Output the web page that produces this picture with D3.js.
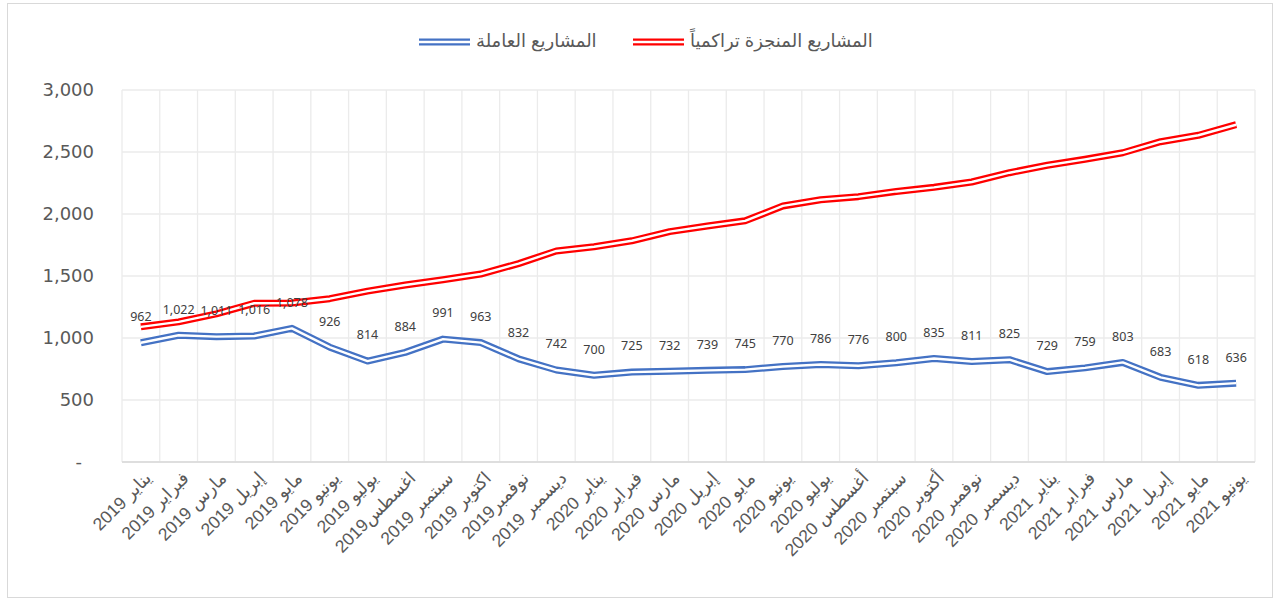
<!DOCTYPE html>
<html>
<head>
  <meta charset="UTF-8">
  <script src="https://d3js.org/d3.v7.min.js"></script>
  <style>
    body { margin: 0; background: #fff; }
  </style>
</head>
<body>
  <script>
    // chart data
    var months = [
      "يناير 2019", "فبراير 2019", "مارس 2019", "إبريل 2019", "مايو 2019", "يونيو 2019",
      "يوليو 2019", "اغسطس2019", "سبتمبر 2019", "اكتوبر 2019", "نوفمبر2019", "ديسمبر 2019",
      "يناير 2020", "فبراير 2020", "مارس 2020", "إبريل 2020", "مايو 2020", "يونيو 2020",
      "يوليو 2020", "أغسطس 2020", "سبتمبر 2020", "أكتوبر 2020", "نوفمبر 2020", "ديسمبر 2020",
      "يناير 2021", "فبراير 2021", "مارس 2021", "إبريل 2021", "مايو 2021", "يونيو 2021"
    ];
    // cumulative completed projects (no labels)
    var completed = [1090, 1130, 1195, 1280, 1282, 1317, 1378, 1427, 1470, 1516, 1600, 1702,
      1736, 1784, 1858, 1903, 1945, 2065, 2115, 2140, 2182, 2215, 2258, 2333,
      2393, 2441, 2494, 2583, 2635, 2720];
    // active projects
    var active = [962, 1022, 1011, 1016, 1078, 926, 814, 884, 991, 963, 832, 742,
      700, 725, 732, 739, 745, 770, 786, 776, 800, 835, 811, 825,
      729, 759, 803, 683, 618, 636];
    var yTicks = [0, 500, 1000, 1500, 2000, 2500, 3000];
    var seriesNames = ["المشاريع المنجزة تراكمياً", "المشاريع العاملة"];
    var seriesColors = ["#ff0000", "#4472c4"];

    var width = 1280;
    var height = 605;
    var svg = d3.select("body")
      .append("svg")
      .attr("width", width)
      .attr("height", height);

    // outer chart border
    svg.append("rect")
      .attr("x", 7.5).attr("y", 3.5)
      .attr("width", 1265).attr("height", 594)
      .attr("fill", "#fff")
      .attr("stroke", "#d9d9d9");

    var x = d3.scaleBand().domain(months).range([122, 1255]);
    var y = d3.scaleLinear().domain([0, 3000]).range([462, 90]);
    var cx = function(d) { return x(d) + x.bandwidth() / 2; };

    // gridlines
    var grid = svg.append("g").attr("stroke", "#ebebeb").attr("stroke-width", 1.3);
    grid.selectAll("line.h").data(yTicks).enter().append("line")
      .attr("x1", 122).attr("x2", 1255)
      .attr("y1", function(d) { return y(d); })
      .attr("y2", function(d) { return y(d); });
    grid.selectAll("line.v").data(months.concat([null])).enter().append("line")
      .attr("x1", function(d) { return d === null ? 1255 : x(d); })
      .attr("x2", function(d) { return d === null ? 1255 : x(d); })
      .attr("y1", 90).attr("y2", 462);
    svg.append("line")
      .attr("x1", 122).attr("x2", 1255).attr("y1", y(0)).attr("y2", y(0))
      .attr("stroke", "#d9d9d9").attr("stroke-width", 1.3);

    // y axis labels
    var fmt = d3.format(",");
    svg.append("g").selectAll("text").data(yTicks).enter().append("text")
      .attr("x", function(d) { return d === 0 ? 82 : 94; })
      .attr("y", function(d) { return y(d); })
      .attr("dy", "0.36em")
      .attr("text-anchor", "end")
      .attr("font-family", "DejaVu Sans")
      .attr("font-size", 18)
      .attr("fill", "#595959")
      .text(function(d) { return d === 0 ? "-" : fmt(d); });

    // x axis labels, rotated
    svg.append("g").selectAll("text").data(months).enter().append("text")
      .attr("transform", function(d) {
        return "translate(" + (cx(d) + 7) + "," + 475 + ") rotate(-45)";
      })
      .attr("text-anchor", "end")
      .attr("dy", "0.35em")
      .attr("font-family", "Liberation Sans, DejaVu Sans")
      .attr("font-size", 17.5)
      .attr("fill", "#595959")
      .text(function(d) { return d; });

    // double lines: wide coloured stroke with a white stripe through it
    var line = d3.line()
      .x(function(d, i) { return cx(months[i]); })
      .y(function(d) { return y(d); });

    [completed, active].forEach(function(vals, k) {
      svg.append("path")
        .attr("d", line(vals))
        .attr("fill", "none")
        .attr("stroke", seriesColors[k])
        .attr("stroke-width", 7)
        .attr("stroke-linejoin", "round");
      svg.append("path")
        .attr("d", line(vals))
        .attr("fill", "none")
        .attr("stroke", "#fff")
        .attr("stroke-width", 2.4)
        .attr("stroke-linejoin", "round");
    });

    // data labels for active projects
    svg.append("g").selectAll("text").data(active).enter().append("text")
      .attr("x", function(d, i) { return cx(months[i]); })
      .attr("y", function(d) { return y(d) - 26; })
      .attr("dy", "0.35em")
      .attr("text-anchor", "middle")
      .attr("font-family", "Noto Sans")
      .attr("font-size", 12.5)
      .attr("fill", "#404040")
      .text(function(d) { return fmt(d); });

    // legend (right to left)
    var legendItems = [
      { name: seriesNames[0], color: seriesColors[0], x: 633 },
      { name: seriesNames[1], color: seriesColors[1], x: 419 }
    ];
    var legend = svg.append("g");
    legendItems.forEach(function(d) {
      legend.append("line")
        .attr("x1", d.x).attr("x2", d.x + 51).attr("y1", 42).attr("y2", 42)
        .attr("stroke", d.color).attr("stroke-width", 7);
      legend.append("line")
        .attr("x1", d.x).attr("x2", d.x + 51).attr("y1", 42).attr("y2", 42)
        .attr("stroke", "#fff").attr("stroke-width", 2.4);
      legend.append("text")
        .attr("x", d.x + 57)
        .attr("y", 41)
        .attr("dy", "0.35em")
        .attr("font-family", "Liberation Sans, DejaVu Sans")
        .attr("font-size", 18)
        .attr("fill", "#595959")
        .text(d.name);
    });
  </script>
</body>
</html>
